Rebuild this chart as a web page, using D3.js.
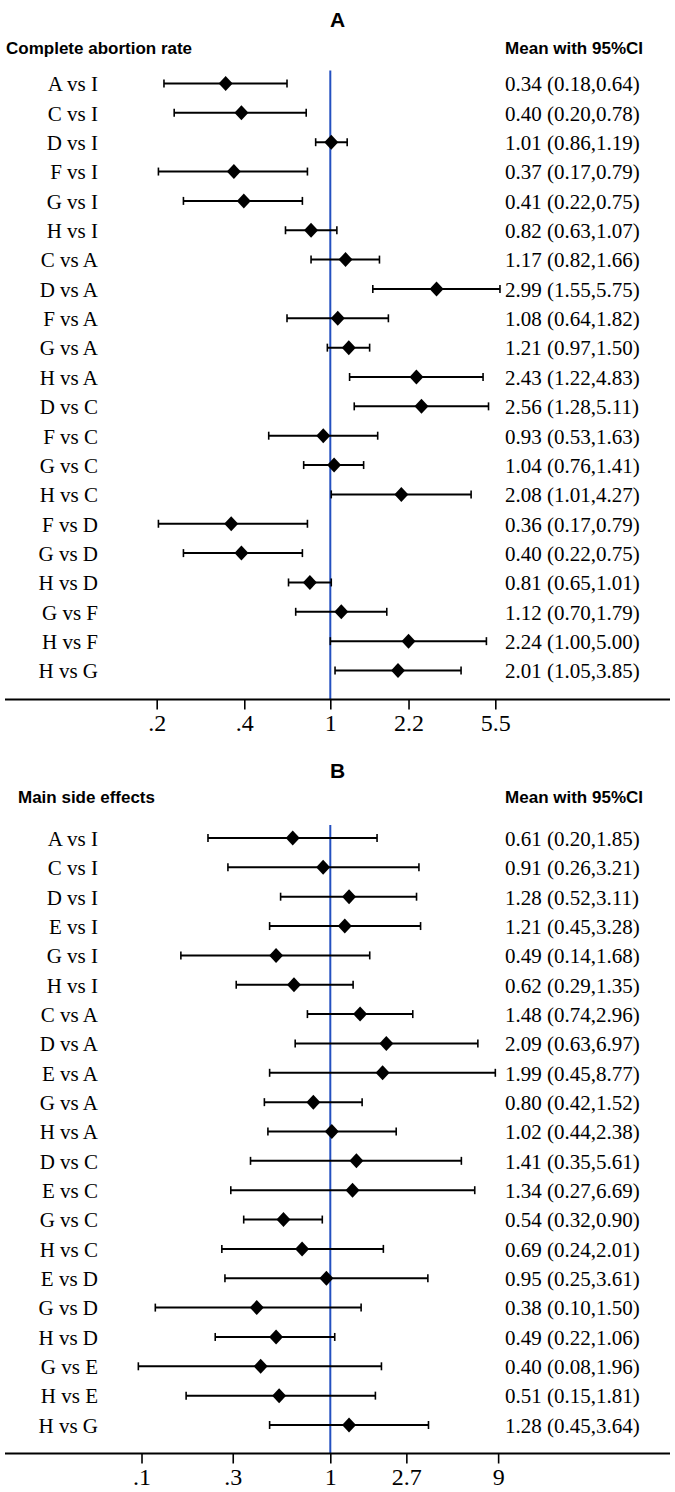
<!DOCTYPE html>
<html>
<head>
<meta charset="utf-8">
<script src="https://cdn.jsdelivr.net/npm/d3@7"></script>
<style>
  body { margin: 0; background: #fff; }
</style>
</head>
<body>
<script>
// panel A - complete abortion rate
var catsA = ["A vs I","C vs I","D vs I","F vs I","G vs I","H vs I","C vs A","D vs A","F vs A","G vs A","H vs A",
  "D vs C","F vs C","G vs C","H vs C","F vs D","G vs D","H vs D","G vs F","H vs F","H vs G"]
var meanA = [0.34,0.40,1.01,0.37,0.41,0.82,1.17,2.99,1.08,1.21,2.43,2.56,0.93,1.04,2.08,0.36,0.40,0.81,1.12,2.24,2.01]
var lowA  = [0.18,0.20,0.86,0.17,0.22,0.63,0.82,1.55,0.64,0.97,1.22,1.28,0.53,0.76,1.01,0.17,0.22,0.65,0.70,1.00,1.05]
var highA = [0.64,0.78,1.19,0.79,0.75,1.07,1.66,5.75,1.82,1.50,4.83,5.11,1.63,1.41,4.27,0.79,0.75,1.01,1.79,5.00,3.85]
var tickValsA = [0.167,0.412,1,2.24,5.48]
var tickLabsA = [".2",".4","1","2.2","5.5"]

// panel B - main side effects
var catsB = ["A vs I","C vs I","D vs I","E vs I","G vs I","H vs I","C vs A","D vs A","E vs A","G vs A","H vs A",
  "D vs C","E vs C","G vs C","H vs C","E vs D","G vs D","H vs D","G vs E","H vs E","H vs G"]
var meanB = [0.61,0.91,1.28,1.21,0.49,0.62,1.48,2.09,1.99,0.80,1.02,1.41,1.34,0.54,0.69,0.95,0.38,0.49,0.40,0.51,1.28]
var lowB  = [0.20,0.26,0.52,0.45,0.14,0.29,0.74,0.63,0.45,0.42,0.44,0.35,0.27,0.32,0.24,0.25,0.10,0.22,0.08,0.15,0.45]
var highB = [1.85,3.21,3.11,3.28,1.68,1.35,2.96,6.97,8.77,1.52,2.38,5.61,6.69,0.90,2.01,3.61,1.50,1.06,1.96,1.81,3.64]
var tickValsB = [0.0834,0.277,1,2.72,9.1]
var tickLabsB = [".1",".3","1","2.7","9"]

var width = 675, height = 1492
var svg = d3.select("body").append("svg")
  .attr("width", width)
  .attr("height", height)

var serif = "'Liberation Serif','Times New Roman',serif"
var sans = "'Liberation Sans',Arial,Helvetica,sans-serif"

var drawPanel = function(p){
  var rows = p.cats.map(function(c,i){
    return {label: c, mean: p.mean[i], low: p.low[i], high: p.high[i]}
  })

  // log scale, 1 sits at x=330
  var x = d3.scaleLog()
    .domain([0.1, 10])
    .range([330.3 - p.k*Math.LN10, 330.3 + p.k*Math.LN10])

  var y = d3.scalePoint()
    .domain(p.cats)
    .range([p.rowTop, p.rowTop + 20*29.35])

  var g = svg.append("g")

  g.append("text")
    .attr("x", 337.5).attr("y", p.titleY)
    .attr("text-anchor", "middle")
    .style("font-family", sans).style("font-weight", "bold").style("font-size", "21px")
    .text(p.title)

  g.append("text")
    .attr("x", p.headX).attr("y", p.headY)
    .style("font-family", sans).style("font-weight", "bold").style("font-size", "17px")
    .text(p.heading)

  g.append("text")
    .attr("x", 643).attr("y", p.headY)
    .attr("text-anchor", "end")
    .style("font-family", sans).style("font-weight", "bold").style("font-size", "17px")
    .text("Mean with 95%CI")

  // null line
  g.append("line")
    .attr("x1", x(1)).attr("x2", x(1))
    .attr("y1", p.rowTop - 13).attr("y2", p.axisY)
    .attr("stroke", "#2450c0").attr("stroke-width", 2)

  var row = g.selectAll(".row").data(rows).enter().append("g")
    .attr("transform", function(d){ return "translate(0," + y(d.label) + ")" })

  row.append("text")
    .attr("x", 98).attr("y", 7.8)
    .attr("text-anchor", "end")
    .style("font-family", serif).style("font-size", "21px")
    .text(function(d){ return d.label })

  row.append("line")
    .attr("x1", function(d){ return x(d.low) })
    .attr("x2", function(d){ return x(d.high) })
    .attr("stroke", "#000").attr("stroke-width", 2)

  row.append("line")
    .attr("x1", function(d){ return x(d.low) }).attr("x2", function(d){ return x(d.low) })
    .attr("y1", -4).attr("y2", 4)
    .attr("stroke", "#000").attr("stroke-width", 1.6)

  row.append("line")
    .attr("x1", function(d){ return x(d.high) }).attr("x2", function(d){ return x(d.high) })
    .attr("y1", -4).attr("y2", 4)
    .attr("stroke", "#000").attr("stroke-width", 1.6)

  row.append("path")
    .attr("d", function(d){
      var cx = x(d.mean)
      return "M" + (cx-7) + ",0L" + cx + ",-7.5L" + (cx+7) + ",0L" + cx + ",7.5Z"
    })
    .attr("fill", "#000")

  row.append("text")
    .attr("x", 505).attr("y", 7.8)
    .style("font-family", serif).style("font-size", "21px")
    .text(function(d){ return d.mean.toFixed(2) + " (" + d.low.toFixed(2) + "," + d.high.toFixed(2) + ")" })

  // x axis
  var axis = d3.axisBottom(x)
    .tickValues(p.tickVals)
    .tickFormat(function(d,i){ return p.tickLabs[i] })
    .tickSize(10)
    .tickSizeOuter(0)
    .tickPadding(4)

  var ax = g.append("g")
    .attr("transform", "translate(0," + p.axisY + ")")
    .call(axis)
  ax.select(".domain").remove()
  ax.selectAll(".tick line").attr("stroke-width", 1.6)
  ax.selectAll(".tick text")
    .style("font-family", serif).style("font-size", "24px").attr("fill", "#000")
  ax.append("line")
    .attr("x1", 5).attr("x2", 670)
    .attr("stroke", "#000").attr("stroke-width", 2)
}

drawPanel({title: "A", heading: "Complete abortion rate", headX: 6, titleY: 27, headY: 54,
  rowTop: 83.5, axisY: 699.5, k: 97,
  cats: catsA, mean: meanA, low: lowA, high: highA, tickVals: tickValsA, tickLabs: tickLabsA})

drawPanel({title: "B", heading: "Main side effects", headX: 18, titleY: 778, headY: 803,
  rowTop: 838, axisY: 1453.5, k: 76,
  cats: catsB, mean: meanB, low: lowB, high: highB, tickVals: tickValsB, tickLabs: tickLabsB})
</script>
</body>
</html>
